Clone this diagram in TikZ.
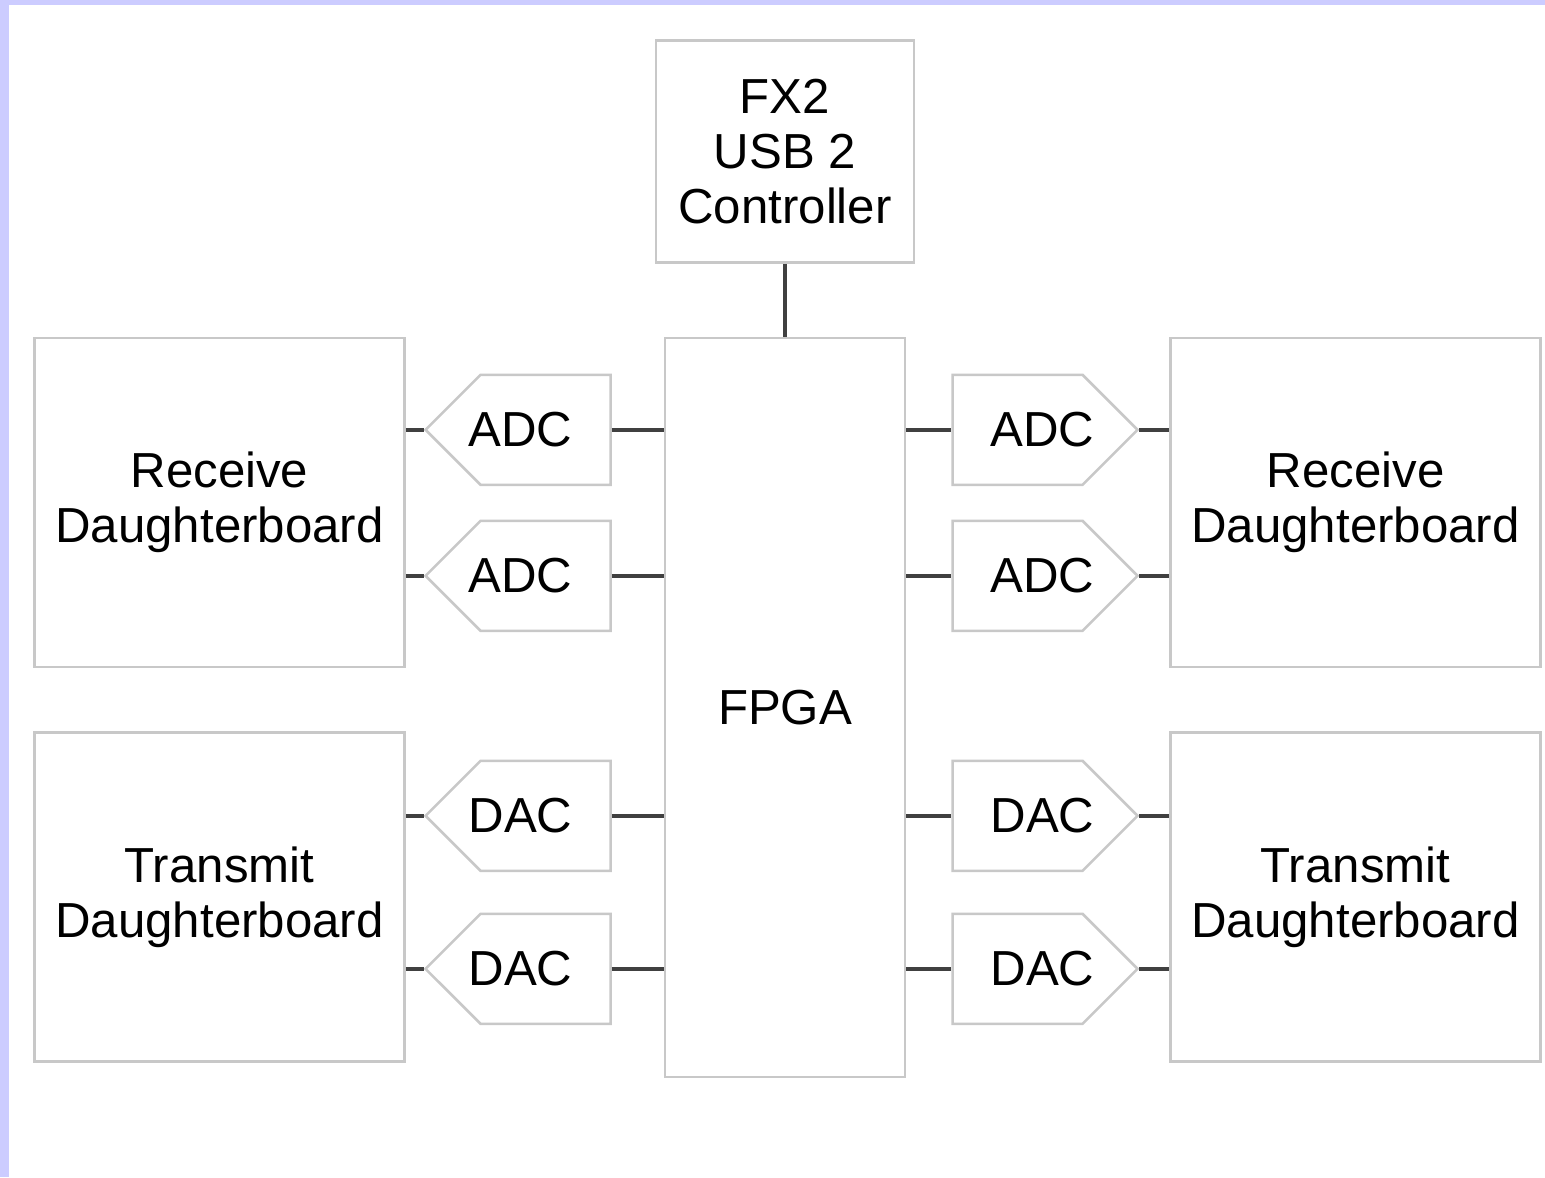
\documentclass[tikz,border=0pt]{standalone}
\usepackage{fontspec}
\setmainfont{Liberation Sans}
\usetikzlibrary{positioning, shapes.symbols, calc}
\definecolor{lavender}{HTML}{CCCCFF}
\definecolor{boxgray}{HTML}{C8C8C8}
\definecolor{linegray}{HTML}{404040}

\begin{document}
\begin{tikzpicture}[
    font=\fontsize{28}{31.3}\selectfont,
    chip/.style={rectangle, draw=boxgray, line width=0.05cm, fill=white, align=center, inner sep=0pt},
    board/.style={rectangle, draw=boxgray, line width=0.05cm, fill=white, align=center, minimum width=7.4cm, minimum height=6.58cm},
    conv/.style={signal, draw=boxgray, line width=0.05cm, fill=white, minimum width=3.7cm, minimum height=2.2cm, inner sep=0pt},
    convL/.style={conv, signal to=west, execute at begin node=\hspace*{-1cm}},
    convR/.style={conv, signal to=east, execute at end node=\hspace*{-1cm}},
    link/.style={draw=linegray, line width=0.07cm}
]

    % Frame
    \fill[lavender] (0,0) rectangle (30.9,-23.54);
    \fill[white] (0.18,-0.1) rectangle (30.9,-23.54);
    \useasboundingbox (0,0) rectangle (30.9,-23.54);

    % FPGA and USB controller
    \node[chip, minimum width=4.8cm, minimum height=14.78cm] (fpga) at (15.7,-14.15) {FPGA};
    \node[chip, minimum width=5.16cm, minimum height=4.44cm] (fx2) [above=1.46cm of fpga] {FX2\\USB 2\\Controller};
    \draw[link] (fx2) -- (fpga);

    % Daughterboards
    \node[board] (rxL) [below left=0cm and 5.16cm of fpga.north west] {Receive\\Daughterboard};
    \node[board] (txL) [below=1.26cm of rxL] {Transmit\\Daughterboard};
    \node[board] (rxR) [below right=0cm and 5.26cm of fpga.north east] {Receive\\Daughterboard};
    \node[board] (txR) [below=1.26cm of rxR] {Transmit\\Daughterboard};

    % Rows of the converters
    \coordinate (l1) at ($(fpga.north west)+(0,-1.86)$);
    \coordinate (l2) at ($(fpga.north west)+(0,-4.78)$);
    \coordinate (l3) at ($(fpga.north west)+(0,-9.58)$);
    \coordinate (l4) at ($(fpga.north west)+(0,-12.64)$);
    \coordinate (r1) at ($(fpga.north east)+(0,-1.86)$);
    \coordinate (r2) at ($(fpga.north east)+(0,-4.78)$);
    \coordinate (r3) at ($(fpga.north east)+(0,-9.58)$);
    \coordinate (r4) at ($(fpga.north east)+(0,-12.64)$);

    % Left converters
    \node[convL] (adcL1) [left=1.04cm of l1] {ADC};
    \node[convL] (adcL2) [left=1.04cm of l2] {ADC};
    \node[convL] (dacL1) [left=1.04cm of l3] {DAC};
    \node[convL] (dacL2) [left=1.04cm of l4] {DAC};
    \draw[link] (rxL.east |- adcL1.west) -- (adcL1.west);
    \draw[link] (rxL.east |- adcL2.west) -- (adcL2.west);
    \draw[link] (txL.east |- dacL1.west) -- (dacL1.west);
    \draw[link] (txL.east |- dacL2.west) -- (dacL2.west);
    \draw[link] (adcL1.east) -- (fpga.west |- adcL1.east);
    \draw[link] (adcL2.east) -- (fpga.west |- adcL2.east);
    \draw[link] (dacL1.east) -- (fpga.west |- dacL1.east);
    \draw[link] (dacL2.east) -- (fpga.west |- dacL2.east);

    % Right converters
    \node[convR] (adcR1) [right=0.9cm of r1] {ADC};
    \node[convR] (adcR2) [right=0.9cm of r2] {ADC};
    \node[convR] (dacR1) [right=0.9cm of r3] {DAC};
    \node[convR] (dacR2) [right=0.9cm of r4] {DAC};
    \draw[link] (fpga.east |- adcR1.west) -- (adcR1.west);
    \draw[link] (fpga.east |- adcR2.west) -- (adcR2.west);
    \draw[link] (fpga.east |- dacR1.west) -- (dacR1.west);
    \draw[link] (fpga.east |- dacR2.west) -- (dacR2.west);
    \draw[link] (adcR1.east) -- (rxR.west |- adcR1.east);
    \draw[link] (adcR2.east) -- (rxR.west |- adcR2.east);
    \draw[link] (dacR1.east) -- (txR.west |- dacR1.east);
    \draw[link] (dacR2.east) -- (txR.west |- dacR2.east);

\end{tikzpicture}
\end{document}
